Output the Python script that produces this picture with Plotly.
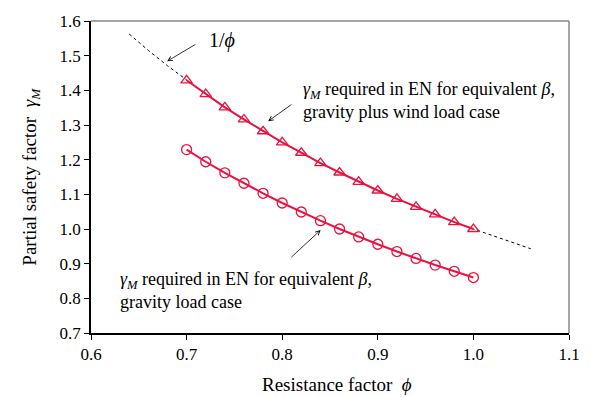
import plotly.graph_objects as go

phi_pts = [0.70, 0.72, 0.74, 0.76, 0.78, 0.80, 0.82, 0.84, 0.86, 0.88, 0.90, 0.92, 0.94, 0.96, 0.98, 1.00]
gamma_wind = [1.429, 1.389, 1.351, 1.316, 1.282, 1.250, 1.220, 1.190, 1.163, 1.136, 1.111, 1.087, 1.064, 1.042, 1.020, 1.000]
gamma_grav = [1.229, 1.194, 1.162, 1.132, 1.103, 1.075, 1.049, 1.024, 1.000, 0.977, 0.956, 0.935, 0.915, 0.896, 0.878, 0.860]
phi_line = [0.64, 0.66, 0.68, 0.70, 0.72, 0.74, 0.76, 0.78, 0.80, 0.82, 0.84, 0.86, 0.88, 0.90, 0.92, 0.94, 0.96, 0.98, 1.00, 1.02, 1.04, 1.06]
inv_phi = [1.5625, 1.515, 1.471, 1.429, 1.389, 1.351, 1.316, 1.282, 1.250, 1.220, 1.190, 1.163, 1.136, 1.111, 1.087, 1.064, 1.042, 1.020, 1.000, 0.980, 0.962, 0.943]
x_ticks = [0.6, 0.7, 0.8, 0.9, 1.0, 1.1]
y_ticks = [0.7, 0.8, 0.9, 1.0, 1.1, 1.2, 1.3, 1.4, 1.5, 1.6]

RED = "#E8143F"
FONT = "Liberation Serif, Times New Roman, serif"

fig = go.Figure()
fig.add_trace(go.Scatter(x=phi_line, y=inv_phi, mode="lines",
                         line=dict(color="black", width=1, dash="dot"), showlegend=False))
fig.add_trace(go.Scatter(x=phi_pts, y=gamma_wind, mode="lines+markers",
                         line=dict(color=RED, width=2),
                         marker=dict(symbol="triangle-up-open", size=10, color=RED, line=dict(width=1.3)),
                         showlegend=False))
fig.add_trace(go.Scatter(x=phi_pts, y=gamma_grav, mode="lines+markers",
                         line=dict(color=RED, width=2),
                         marker=dict(symbol="circle-open", size=10, color=RED, line=dict(width=1.3)),
                         showlegend=False))

ann_font = dict(family=FONT, size=18, color="black")
arrow = dict(showarrow=True, arrowhead=5, arrowsize=1.1, arrowwidth=0.8, arrowcolor="black",
             axref="x", ayref="y", text="")
fig.add_annotation(x=0.6797, y=1.484, ax=0.7108, ay=1.535, **arrow)
fig.add_annotation(x=0.7853, y=1.311, ax=0.8112, ay=1.362, **arrow)
fig.add_annotation(x=0.8402, y=0.997, ax=0.8081, ay=0.915, **arrow)

fig.add_annotation(x=0.7211, y=1.545, text="1/<i>ϕ</i>", showarrow=False, xanchor="left", yanchor="middle",
                   font=dict(family=FONT, size=20, color="black"))
fig.add_annotation(x=0.8195, y=1.372,
                   text="<i>γ<sub>M</sub></i> required in EN for equivalent <i>β</i>,<br>gravity plus wind load case",
                   showarrow=False, xanchor="left", yanchor="middle", align="left", font=ann_font)
fig.add_annotation(x=0.628, y=0.824,
                   text="<i>γ<sub>M</sub></i> required in EN for equivalent <i>β</i>,<br>gravity load case",
                   showarrow=False, xanchor="left", yanchor="middle", align="left", font=ann_font)

# axis titles
fig.add_annotation(xref="paper", yref="paper", x=(340 - 91) / 483, y=(333 - 385) / 318,
                   text="Resistance factor  <i>ϕ</i>", showarrow=False, xanchor="center", yanchor="middle",
                   font=dict(family=FONT, size=19, color="black"))
fig.add_annotation(xref="paper", yref="paper", x=(30 - 91) / 483, y=0.5, textangle=-90,
                   text="Partial safety factor  <i>γ<sub>M</sub></i>", showarrow=False, xanchor="center", yanchor="middle",
                   font=dict(family=FONT, size=19, color="black"))

# top and right gray frame
fig.add_shape(type="line", xref="paper", yref="paper", x0=0, x1=1, y0=1, y1=1, line=dict(color="#888888", width=1.5))
fig.add_shape(type="line", xref="paper", yref="paper", x0=1, x1=1, y0=0, y1=1, line=dict(color="#888888", width=1.5))

fig.update_xaxes(range=[0.6, 1.1], tickvals=x_ticks, tickformat=".1f", showgrid=False, zeroline=False,
                 showline=True, linecolor="black", linewidth=1.5, ticks="outside", ticklen=5, tickcolor="black",
                 tickfont=dict(family=FONT, size=17, color="black"))
fig.update_yaxes(range=[0.7, 1.6], tickvals=y_ticks, tickformat=".1f", showgrid=False, zeroline=False,
                 showline=True, linecolor="black", linewidth=1.5, ticks="outside", ticklen=5, tickcolor="black",
                 tickfont=dict(family=FONT, size=17, color="black"))
fig.update_layout(width=592, height=397, margin=dict(l=91, r=18, t=15, b=64),
                  font=dict(family=FONT, color="black"),
                  plot_bgcolor="white", paper_bgcolor="white")
fig.write_html("out.html")
